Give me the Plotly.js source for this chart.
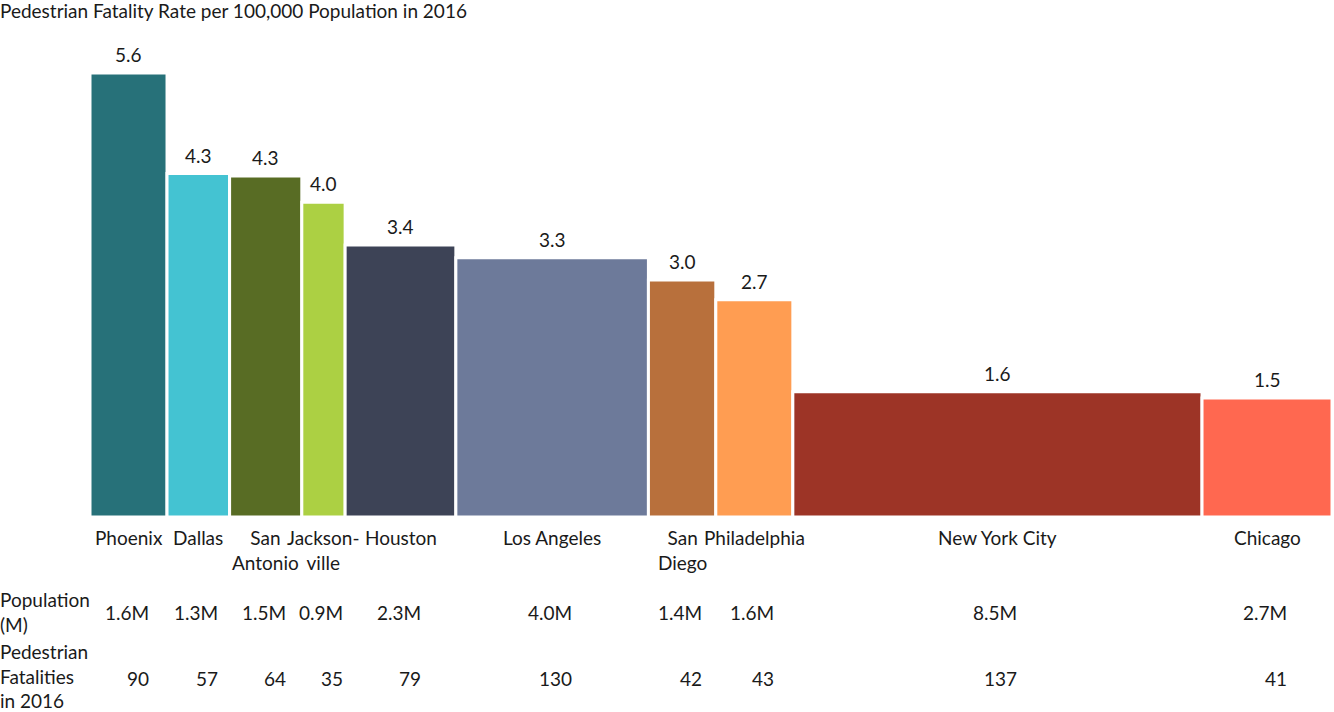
<!DOCTYPE html>
<html>
<head>
<meta charset="utf-8">
<script src="https://cdn.plot.ly/plotly-3.0.1.min.js"></script>
<style>
  html, body { margin: 0; padding: 0; background: #fff; }
  #chart { width: 1334px; height: 712px; }
</style>
</head>
<body>
<div id="chart"></div>
<script>
// data
var cities = ['Phoenix', 'Dallas', 'San<br>Antonio', 'Jackson-<br>ville', 'Houston',
              'Los Angeles', 'San<br>Diego', 'Philadelphia', 'New York City', 'Chicago'];
var population = [1.6, 1.3, 1.5, 0.9, 2.3, 4.0, 1.4, 1.6, 8.5, 2.7];     // millions
var fatalities = [90, 57, 64, 35, 79, 130, 42, 43, 137, 41];
var rate = [5.6, 4.33, 4.3, 3.97, 3.43, 3.27, 2.99, 2.74, 1.58, 1.50];   // per 100,000
var rateLabels = ['5.6', '4.3', '4.3', '4.0', '3.4', '3.3', '3.0', '2.7', '1.6', '1.5'];
var colors = ['#277179', '#44C3D2', '#586C24', '#ACD043', '#3D4356',
              '#6D7A9A', '#B8703C', '#FF9D52', '#9D3426', '#FF6850'];

var FONT = 'Lato, "Open Sans", sans-serif';
var FS = 19;
var TXT = '#1a1a1a';
var marginL = 90, marginR = 2, plotW = 1334 - marginL - marginR;

// bar centres from cumulative population
var centers = [];
var acc = 0;
for (var i = 0; i < population.length; i++) {
    centers.push(acc + population[i] / 2);
    acc += population[i];
}
var total = acc;

var trace = {
    type: 'bar',
    x: centers,
    y: rate,
    width: population,
    marker: { color: colors, line: { color: '#ffffff', width: 3 } },
    hoverinfo: 'none'
};

function txt(extra) {
    var a = { showarrow: false, font: { family: FONT, size: FS, color: TXT } };
    for (var k in extra) a[k] = extra[k];
    return a;
}

var annotations = [];
for (var i = 0; i < cities.length; i++) {
    // value over each bar
    annotations.push(txt({
        x: centers[i], y: rate[i], xref: 'x', yref: 'y', text: rateLabels[i],
        xanchor: 'center', yanchor: 'bottom', yshift: 5
    }));
    // city name under each bar
    annotations.push(txt({
        x: centers[i], y: 0, xref: 'x', yref: 'paper', text: cities[i],
        xanchor: 'center', yanchor: 'top', yshift: -7, align: 'center'
    }));
    // population row
    annotations.push(txt({
        x: centers[i], y: 0, xref: 'x', yref: 'paper', text: population[i].toFixed(1) + 'M',
        xanchor: 'right', yanchor: 'middle', xshift: 22, yshift: -95
    }));
    // fatalities row
    annotations.push(txt({
        x: centers[i], y: 0, xref: 'x', yref: 'paper', text: String(fatalities[i]),
        xanchor: 'right', yanchor: 'middle', xshift: 22, yshift: -161
    }));
}

// row headers on the left
annotations.push(txt({
    x: -marginL / plotW, y: 0, xref: 'paper', yref: 'paper',
    text: 'Population<br>(M)', align: 'left',
    xanchor: 'left', yanchor: 'middle', xshift: -2, yshift: -95
}));
annotations.push(txt({
    x: -marginL / plotW, y: 0, xref: 'paper', yref: 'paper',
    text: 'Pedestrian<br>Fatalities<br>in 2016', align: 'left',
    xanchor: 'left', yanchor: 'middle', xshift: -2, yshift: -159
}));

var layout = {
    width: 1334,
    height: 712,
    margin: { l: marginL, r: marginR, t: 40, b: 195 },
    paper_bgcolor: '#ffffff',
    plot_bgcolor: '#ffffff',
    showlegend: false,
    hovermode: false,
    bargap: 0,
    title: {
        text: 'Pedestrian Fatality Rate per 100,000 Population in 2016',
        x: 0, xref: 'container', xanchor: 'left',
        y: 0.993, yref: 'container', yanchor: 'top',
        pad: { t: 0, l: 0 },
        font: { family: FONT, size: FS, color: TXT }
    },
    xaxis: {
        range: [0, total],
        showticklabels: false,
        showgrid: false, zeroline: false, showline: false,
        ticks: '',
        fixedrange: true
    },
    yaxis: {
        range: [0, 6.015],
        visible: false,
        fixedrange: true
    },
    annotations: annotations
};

Plotly.newPlot('chart', [trace], layout, { displayModeBar: false, staticPlot: true });
</script>
</body>
</html>
